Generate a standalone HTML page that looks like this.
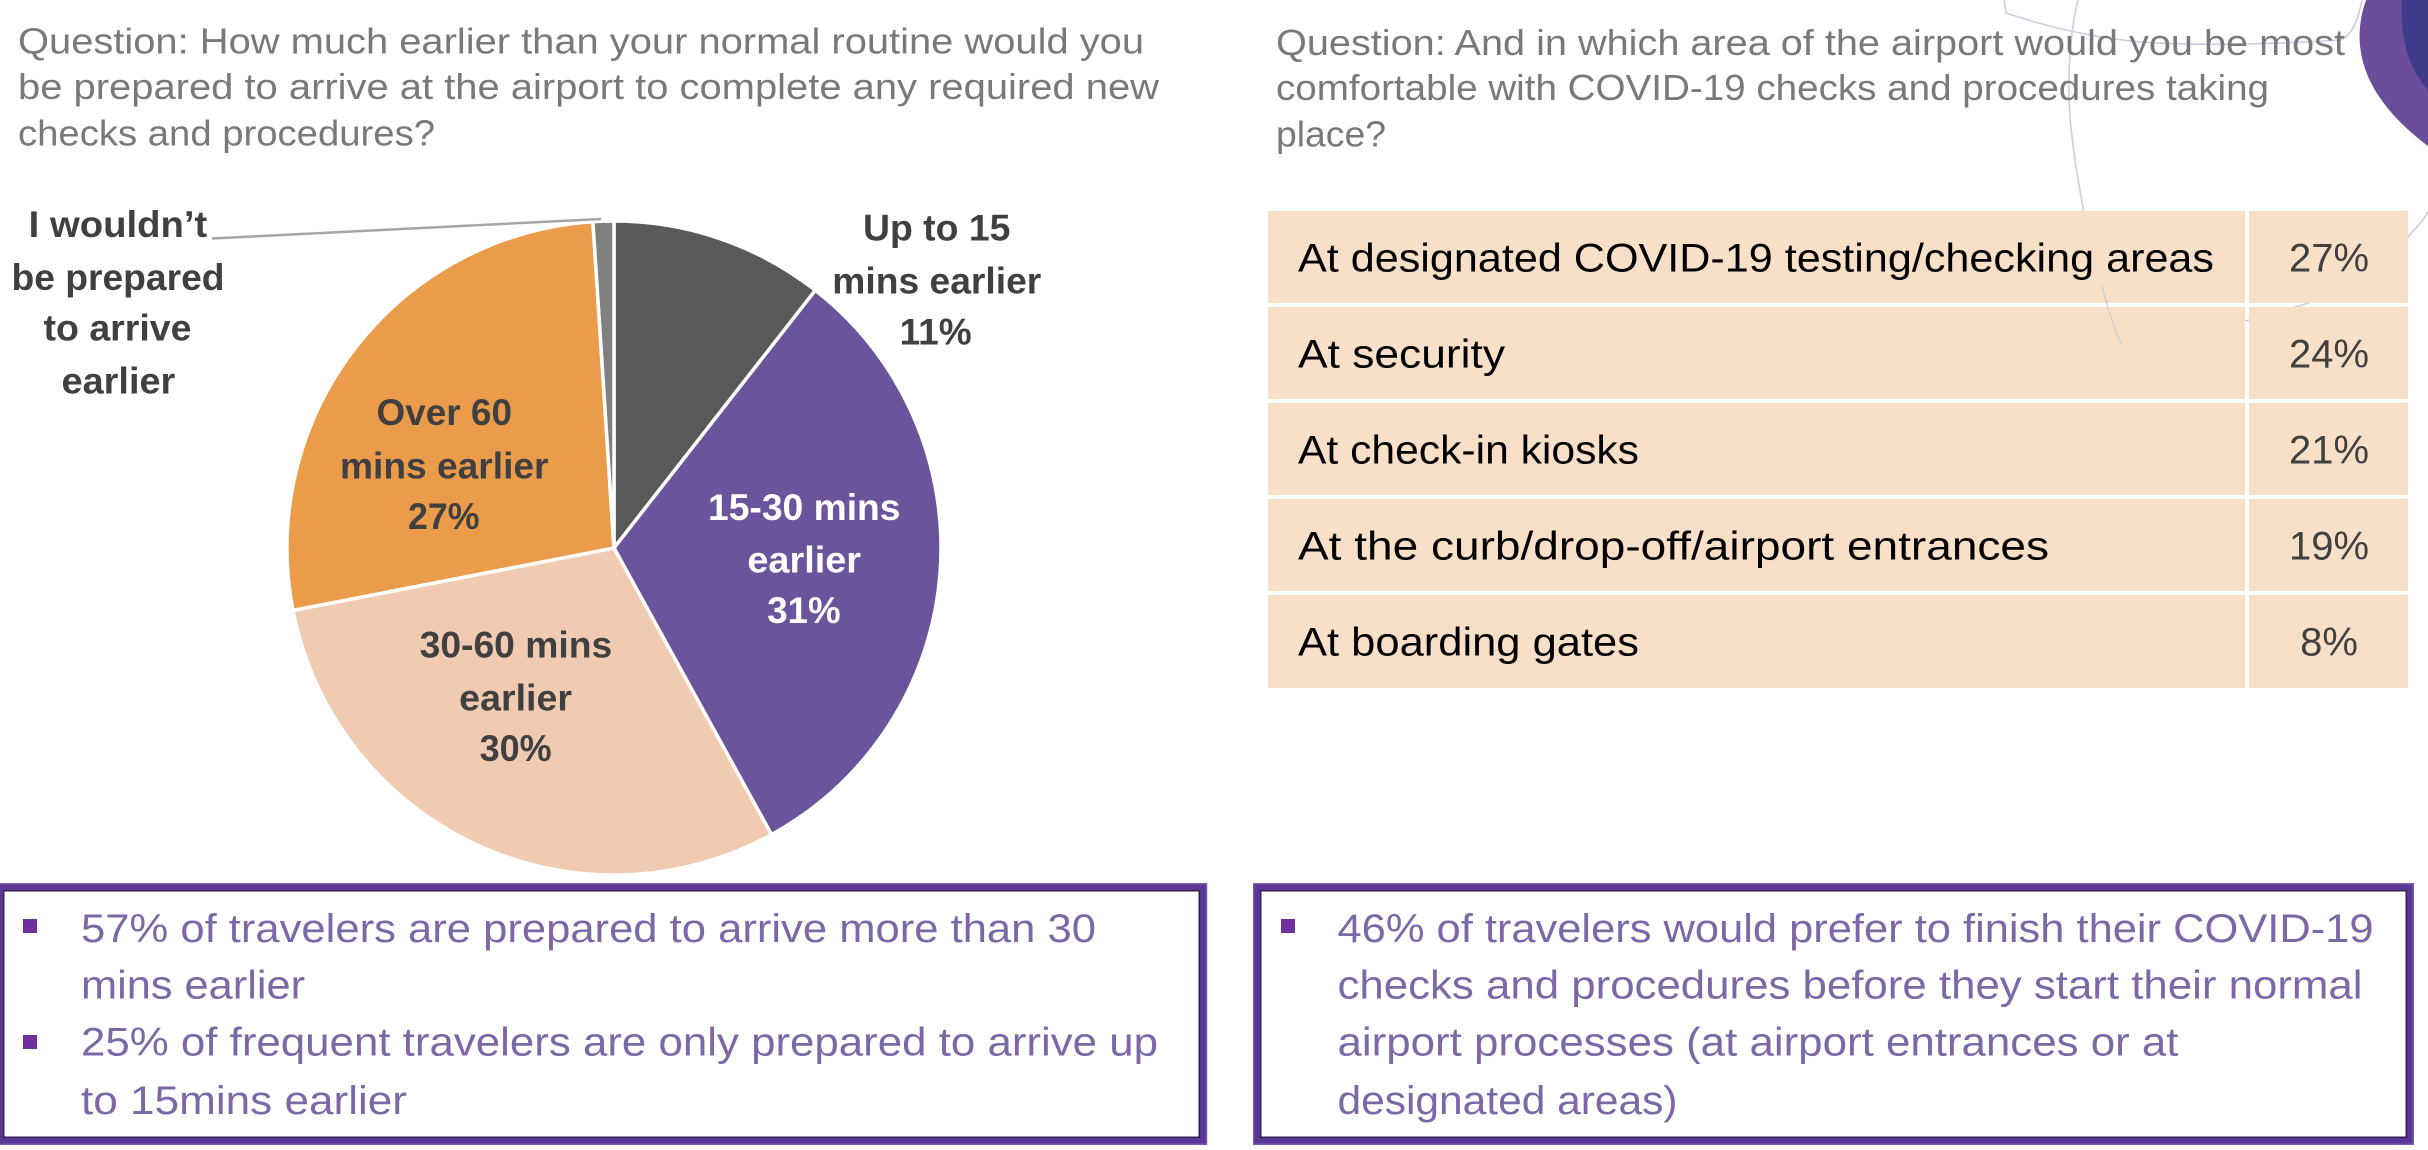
<!DOCTYPE html>
<html>
<head>
<meta charset="utf-8">
<style>
html,body{margin:0;padding:0;background:#fff;}
body{width:2428px;height:1150px;overflow:hidden;}
svg{display:block;}
text{font-family:"Liberation Sans", Arial, sans-serif;}
</style>
</head>
<body>
<svg width="2428" height="1150" viewBox="0 0 2428 1150" xmlns="http://www.w3.org/2000/svg">
  <rect x="0" y="0" width="2428" height="1150" fill="#ffffff"/>

  <!-- decorative lines top-right -->
  <g fill="none" stroke="#CFCBE1" stroke-width="1.6">
    <path d="M2078,0 C2068,40 2068,90 2070,118 C2073,150 2078,180 2082,202 C2088,235 2095,262 2102,286 C2108,310 2115,330 2122,345"/>
    <path d="M2122,345 C2160,338 2200,332 2237,323 C2275,314 2310,303 2338,293 C2365,280 2392,258 2412,232 C2418,226 2424,219 2428,212"/>
    <path d="M2004,0 L2006,13 C2040,24 2080,36 2140,42 C2200,46 2280,44 2340,40 C2352,36 2358,20 2362,0"/>
  </g>

  <!-- purple corner shape -->
  <path d="M2366,0 C2352,40 2356,92 2428,146 L2428,0 Z" fill="#6A4E9C"/>
  <path d="M2402,0 C2400,38 2408,68 2428,90 L2428,0 Z" fill="#3F3A8A"/>

  <!-- left title -->
  <g fill="#797979" font-size="36">
    <text x="18" y="53.5" textLength="1126" lengthAdjust="spacingAndGlyphs">Question: How much earlier than your normal routine would you</text>
    <text x="18" y="99" textLength="1141" lengthAdjust="spacingAndGlyphs">be prepared to arrive at the airport to complete any required new</text>
    <text x="18" y="145.5" textLength="417" lengthAdjust="spacingAndGlyphs">checks and procedures?</text>
  </g>

  <!-- right title -->
  <g fill="#797979" font-size="36">
    <text x="1276" y="55" textLength="1069" lengthAdjust="spacingAndGlyphs">Question: And in which area of the airport would you be most</text>
    <text x="1276" y="100" textLength="993" lengthAdjust="spacingAndGlyphs">comfortable with COVID-19 checks and procedures taking</text>
    <text x="1276" y="146.5" textLength="110" lengthAdjust="spacingAndGlyphs">place?</text>
  </g>

  <!-- pie -->
  <g stroke="#ffffff" stroke-width="3.5" stroke-linejoin="round">
    <path d="M614,548 L614,221 A327,327 0 0 1 815.3,290.3 Z" fill="#595959"/>
    <path d="M614,548 L815.3,290.3 A327,327 0 0 1 771.5,834.6 Z" fill="#6A559C"/>
    <path d="M614,548 L771.5,834.6 A327,327 0 0 1 293.0,610.4 Z" fill="#F0CBB1"/>
    <path d="M614,548 L293.0,610.4 A327,327 0 0 1 592.9,221.7 Z" fill="#EB9C4B"/>
    <path d="M614,548 L592.9,221.7 A327,327 0 0 1 614,221 Z" fill="#808080"/>
  </g>

  <!-- leader line -->
  <path d="M212,238.5 L601,219" stroke="#A6A6A6" stroke-width="2.5" fill="none"/>

  <!-- pie labels -->
  <g font-size="37" font-weight="bold" fill="#404040">
    <text x="28.7" y="237" textLength="178.6" lengthAdjust="spacingAndGlyphs">I wouldn’t</text>
    <text x="11.5" y="290" textLength="213" lengthAdjust="spacingAndGlyphs">be prepared</text>
    <text x="43.5" y="340.7" textLength="148" lengthAdjust="spacingAndGlyphs">to arrive</text>
    <text x="61.5" y="393.7" textLength="113.8" lengthAdjust="spacingAndGlyphs">earlier</text>

    <text x="863" y="240.5" textLength="147.4" lengthAdjust="spacingAndGlyphs">Up to 15</text>
    <text x="832.3" y="293.4" textLength="209" lengthAdjust="spacingAndGlyphs">mins earlier</text>
    <text x="899.6" y="344.7" textLength="72" lengthAdjust="spacingAndGlyphs">11%</text>

    <text x="376.5" y="425" textLength="135.5" lengthAdjust="spacingAndGlyphs">Over 60</text>
    <text x="340" y="478.4" textLength="208.5" lengthAdjust="spacingAndGlyphs">mins earlier</text>
    <text x="408" y="529" textLength="71.6" lengthAdjust="spacingAndGlyphs">27%</text>

    <text x="419.6" y="657.5" textLength="192.6" lengthAdjust="spacingAndGlyphs">30-60 mins</text>
    <text x="459.2" y="710.3" textLength="112.8" lengthAdjust="spacingAndGlyphs">earlier</text>
    <text x="479.6" y="760.8" textLength="72" lengthAdjust="spacingAndGlyphs">30%</text>
  </g>
  <g font-size="37" font-weight="bold" fill="#ffffff">
    <text x="708" y="519.8" textLength="192.5" lengthAdjust="spacingAndGlyphs">15-30 mins</text>
    <text x="747.4" y="572.6" textLength="113.6" lengthAdjust="spacingAndGlyphs">earlier</text>
    <text x="767.2" y="623" textLength="73.4" lengthAdjust="spacingAndGlyphs">31%</text>
  </g>

  <!-- table -->
  <g fill="#F8DFC7">
    <rect x="1268" y="211" width="977" height="92"/>
    <rect x="2249" y="211" width="159" height="92"/>
    <rect x="1268" y="307" width="977" height="92"/>
    <rect x="2249" y="307" width="159" height="92"/>
    <rect x="1268" y="403" width="977" height="92"/>
    <rect x="2249" y="403" width="159" height="92"/>
    <rect x="1268" y="499" width="977" height="92"/>
    <rect x="2249" y="499" width="159" height="92"/>
    <rect x="1268" y="595" width="977" height="93"/>
    <rect x="2249" y="595" width="159" height="93"/>
  </g>
  <!-- faint decorative line crossing table -->
  <path d="M2102,286 C2108,310 2115,330 2122,345" stroke="#D9CCD0" stroke-width="1.4" fill="none"/>

  <g font-size="40" fill="#000000">
    <text x="1298" y="271.7" textLength="916" lengthAdjust="spacingAndGlyphs">At designated COVID-19 testing/checking areas</text>
    <text x="1298" y="367.7" textLength="207" lengthAdjust="spacingAndGlyphs">At security</text>
    <text x="1298" y="463.7" textLength="341" lengthAdjust="spacingAndGlyphs">At check-in kiosks</text>
    <text x="1298" y="559.7" textLength="751" lengthAdjust="spacingAndGlyphs">At the curb/drop-off/airport entrances</text>
    <text x="1298" y="655.7" textLength="341" lengthAdjust="spacingAndGlyphs">At boarding gates</text>
  </g>
  <g font-size="40" fill="#404040" text-anchor="middle">
    <text x="2329" y="271.7">27%</text>
    <text x="2329" y="367.7">24%</text>
    <text x="2329" y="463.7">21%</text>
    <text x="2329" y="559.7">19%</text>
    <text x="2329" y="655.7">8%</text>
  </g>

  <!-- bottom boxes -->
  <g fill="none">
    <rect x="-0.5" y="886.5" width="1204" height="255" stroke="#5B3794" stroke-width="7"/>
    <rect x="-3.5" y="883.75" width="1210" height="260.5" stroke="#7B58B4" stroke-width="1.5"/>
    <rect x="3.75" y="890.75" width="1195.5" height="246.5" stroke="#33205A" stroke-width="1.5"/>

    <rect x="1256.5" y="886.5" width="1154" height="255" stroke="#5B3794" stroke-width="7"/>
    <rect x="1253.75" y="883.75" width="1159.5" height="260.5" stroke="#7B58B4" stroke-width="1.5"/>
    <rect x="1260.75" y="890.75" width="1145.5" height="246.5" stroke="#33205A" stroke-width="1.5"/>
  </g>

  <!-- bullets -->
  <g fill="#7030A0">
    <rect x="23" y="919" width="14" height="14"/>
    <rect x="23" y="1035" width="14" height="14"/>
    <rect x="1281" y="919" width="14" height="14"/>
  </g>

  <g font-size="40" fill="#7B68A6">
    <text x="81" y="942" textLength="1015" lengthAdjust="spacingAndGlyphs">57% of travelers are prepared to arrive more than 30</text>
    <text x="81" y="998.5" textLength="224" lengthAdjust="spacingAndGlyphs">mins earlier</text>
    <text x="81" y="1055.3" textLength="1077" lengthAdjust="spacingAndGlyphs">25% of frequent travelers are only prepared to arrive up</text>
    <text x="81" y="1114" textLength="326" lengthAdjust="spacingAndGlyphs">to 15mins earlier</text>

    <text x="1337.5" y="942" textLength="1036" lengthAdjust="spacingAndGlyphs">46% of travelers would prefer to finish their COVID-19</text>
    <text x="1337.5" y="998.5" textLength="1025" lengthAdjust="spacingAndGlyphs">checks and procedures before they start their normal</text>
    <text x="1337.5" y="1055.3" textLength="841" lengthAdjust="spacingAndGlyphs">airport processes (at airport entrances or at</text>
    <text x="1337.5" y="1114" textLength="340" lengthAdjust="spacingAndGlyphs">designated areas)</text>
  </g>
</svg>
</body>
</html>
